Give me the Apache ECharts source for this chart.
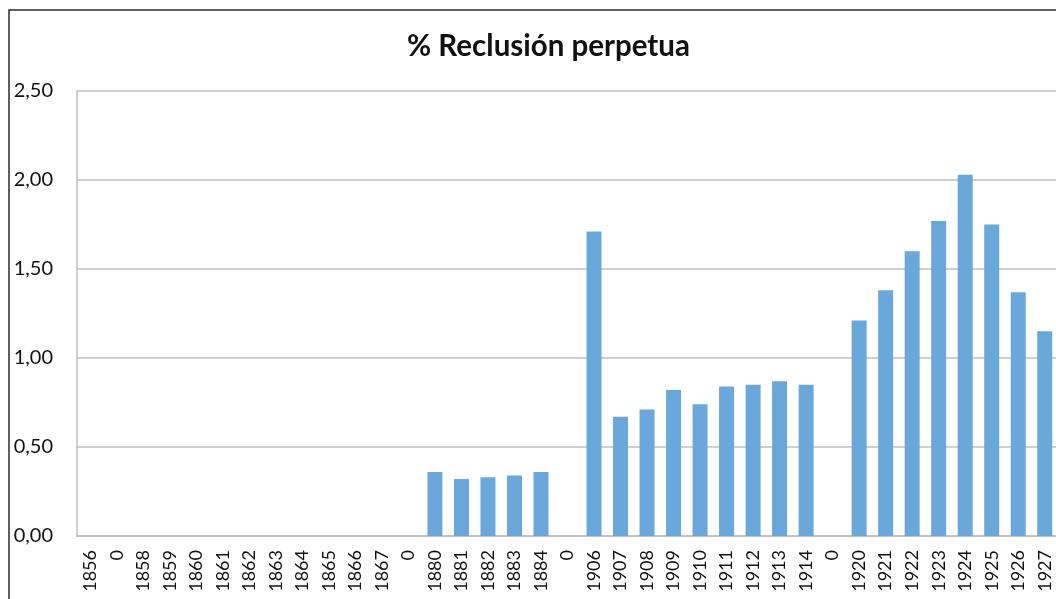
<!DOCTYPE html>
<html>
<head>
<meta charset="utf-8">
<script src="https://cdn.jsdelivr.net/npm/echarts@6/dist/echarts.min.js"></script>
<style>
  html, body { margin: 0; padding: 0; background: #fff; }
  #chart { width: 1056px; height: 599px; }
</style>
</head>
<body>
<div id="chart"></div>
<script>
const years = ['1856', '0', '1858', '1859', '1860', '1861', '1862', '1863', '1864', '1865', '1866', '1867', '0',
  '1880', '1881', '1882', '1883', '1884', '0',
  '1906', '1907', '1908', '1909', '1910', '1911', '1912', '1913', '1914', '0',
  '1920', '1921', '1922', '1923', '1924', '1925', '1926', '1927']

const reclusion = [0, 0, 0, 0, 0, 0, 0, 0, 0, 0, 0, 0, 0,
  0.36, 0.32, 0.33, 0.34, 0.36, 0,
  1.71, 0.67, 0.71, 0.82, 0.74, 0.84, 0.85, 0.87, 0.85, 0,
  1.21, 1.38, 1.60, 1.77, 2.03, 1.75, 1.37, 1.15]

const yTicks = [0, 0.5, 1, 1.5, 2, 2.5]

const chart = echarts.init(document.getElementById('chart'))

chart.setOption({
  animation: false,
  textStyle: { fontFamily: 'Lato' },
  title: {
    text: '% Reclusión perpetua',
    left: 402,
    top: 26,
    textStyle: { fontFamily: 'Lato', fontSize: 29.5, fontWeight: 'bold', color: '#111' },
  },
  graphic: [{
    type: 'rect',
    shape: { x: 9, y: 10, width: 1200, height: 700 },
    style: { fill: 'none', stroke: '#2b2b2b', lineWidth: 1.5 },
    silent: true,
  }],
  grid: {
    left: 77,
    top: 91,
    width: 981,
    height: 445,
    outerBoundsMode: 'none',
  },
  xAxis: {
    type: 'category',
    data: years,
    axisLine: { lineStyle: { color: '#bfbfbf', width: 1.5 } },
    axisTick: { show: false },
    axisLabel: {
      interval: 0,
      rotate: 90,
      margin: 14,
      color: '#111',
      fontSize: 18,
    },
  },
  yAxis: {
    type: 'value',
    min: yTicks[0],
    max: yTicks[yTicks.length - 1],
    interval: 0.5,
    axisLine: { show: true, lineStyle: { color: '#bfbfbf', width: 1.5 } },
    axisTick: { show: false },
    splitLine: { lineStyle: { color: '#bfbfbf', width: 1.5 } },
    axisLabel: {
      color: '#111',
      fontSize: 20,
      margin: 24,
      formatter: (v) => v.toFixed(2).replace('.', ','),
    },
  },
  series: [{
    type: 'bar',
    data: reclusion,
    barWidth: 15,
    itemStyle: { color: '#6aa8dc' },
  }],
})
</script>
</body>
</html>
